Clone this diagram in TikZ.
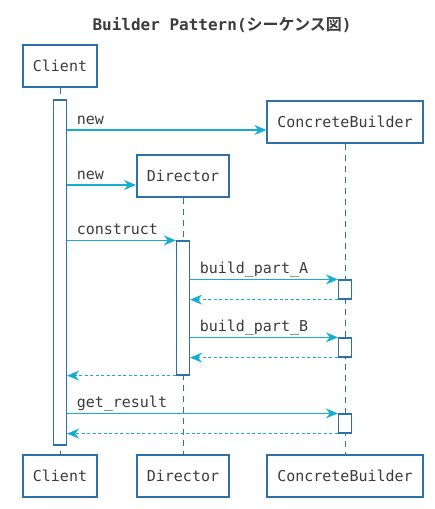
\documentclass[tikz,border=0pt]{standalone}
\usepackage{fontspec}
\setmonofont{DejaVu Sans Mono}
\newfontfamily\cjk{Noto Sans CJK JP}[BoldFont={Noto Sans CJK JP Bold}]
\usetikzlibrary{arrows.meta, positioning}
\definecolor{SeqBlue}{RGB}{46,112,168}
\definecolor{SeqCyan}{RGB}{22,172,212}
\definecolor{SeqText}{RGB}{60,60,60}
\newcommand{\seqfont}{\ttfamily\fontsize{15}{18}\selectfont}

\begin{document}
\begin{tikzpicture}[x=1pt, y=-1pt,
      actor/.style={rectangle, draw=SeqBlue, line width=1.8pt, fill=white,
                    minimum height=42pt, inner xsep=10pt,
                    font=\seqfont, text=SeqText},
      life/.style={draw=SeqBlue, line width=1pt, dash pattern=on 6pt off 5pt},
      act/.style={rectangle, draw=SeqBlue, line width=1.2pt, fill=white,
                  minimum width=13pt, inner sep=0pt},
      msg/.style={-{Stealth[length=12pt, width=10pt, inset=4pt]}, SeqCyan, line width=1.3pt},
      ret/.style={msg, dash pattern=on 3pt off 2.5pt},
      lbl/.style={font=\seqfont, text=SeqText, anchor=base west, inner sep=0pt,
                  xshift=9pt, yshift=6pt}
    ]
    \useasboundingbox (0,0) rectangle (435,509);
    \node[font=\ttfamily\bfseries\fontsize{16}{19}\selectfont, text=SeqText] (title) at (222,25)
         {Builder Pattern({\cjk\bfseries シーケンス図})};

    % Participants
    \node[actor] (cltop)  at (60,66)   {Client};
    \node[actor] (cbtop)  at (345,122) {ConcreteBuilder};
    \node[actor] (dirtop) at (183,176) {Director};
    \node[actor] (clbot)  at (60,476)  {Client};
    \node[actor] (dirbot) at (183,476) {Director};
    \node[actor] (cbbot)  at (345,476) {ConcreteBuilder};

    % Lifelines
    \draw[life] (cltop)  -- (clbot);
    \draw[life] (dirtop) -- (dirbot);
    \draw[life] (cbtop)  -- (cbbot);

    % Activations
    \node[act, minimum height=345pt] (clact)  at (60,272.5)  {};
    \node[act, minimum height=134pt] (diract) at (183,308)   {};
    \node[act, minimum height=19pt]  (cba1)   at (345,289.5) {};
    \node[act, minimum height=19pt]  (cba2)   at (345,347.5) {};
    \node[act, minimum height=19pt]  (cba3)   at (345,423.5) {};

    % Messages
    \draw[msg] (clact.east |- 0,130) -- ([yshift=-8pt]cbtop.west) node[pos=0, lbl]{new};
    \draw[msg] (clact.east |- 0,185) -- ([yshift=-9pt]dirtop.west) node[pos=0, lbl]{new};
    \draw[msg] (clact.east |- diract.north) -- (diract.north west) node[pos=0, lbl]{construct};
    \draw[msg] (diract.east |- cba1.north) -- (cba1.north west) node[pos=0, lbl]{build\_part\_A};
    \draw[ret] (cba1.south west) -- (diract.east |- cba1.south);
    \draw[msg] (diract.east |- cba2.north) -- (cba2.north west) node[pos=0, lbl]{build\_part\_B};
    \draw[ret] (cba2.south west) -- (diract.east |- cba2.south);
    \draw[ret] (diract.south west) -- (clact.east |- diract.south);
    \draw[msg] (clact.east |- cba3.north) -- (cba3.north west) node[pos=0, lbl]{get\_result};
    \draw[ret] (cba3.south west) -- (clact.east |- cba3.south);
  \end{tikzpicture}
\end{document}
